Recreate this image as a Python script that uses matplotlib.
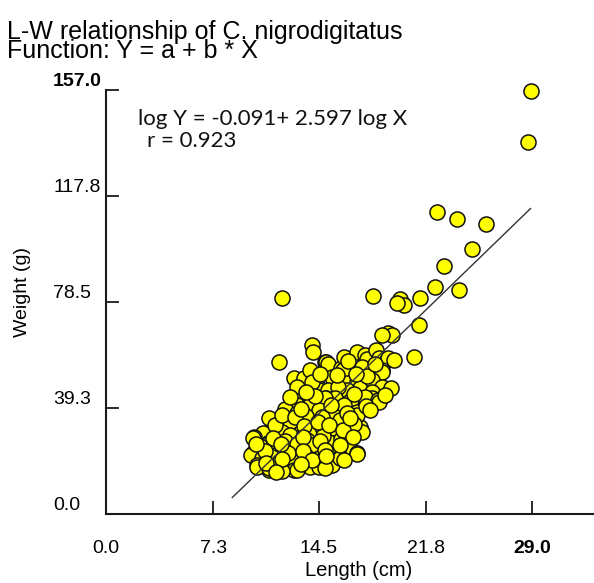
import matplotlib
matplotlib.use("Agg")
import matplotlib.pyplot as plt
import numpy as np

# ---------------- data ----------------
title_lines = ["L-W relationship of C. nigrodigitatus", "Function: Y = a + b * X"]
eq_text = "log Y = -0.091+ 2.597 log X"
r_text = "r = 0.923"
x_label = "Length (cm)"
y_label = "Weight (g)"

x_ticks = [0.0, 7.3, 14.5, 21.8, 29.0]
x_tick_labels = ["0.0", "7.3", "14.5", "21.8", "29.0"]
y_ticks = [0.0, 39.3, 78.5, 117.8, 157.0]
y_tick_labels = ["0.0", "39.3", "78.5", "117.8", "157.0"]

# outlying / sparse points
outer_length = [28.9, 28.7, 22.5, 23.9, 25.9, 24.9, 23.0, 22.4, 24.0, 21.4,
                20.0, 20.3, 19.8, 18.2, 12.0, 21.3, 21.0, 19.2, 19.5, 18.8,
                11.8, 14.0, 14.1]
outer_weight = [156.7, 137.8, 111.9, 109.3, 107.4, 98.1, 91.9, 84.1, 83.0, 80.0,
                79.6, 77.4, 78.1, 80.7, 80.0, 70.0, 58.1, 67.0, 66.3, 66.3,
                56.3, 62.6, 60.0]

# dense cluster
core_length = [
    12.8, 13.5, 13.9, 14.9, 15.0, 15.1, 16.0, 16.2, 17.1, 17.6, 17.8, 18.4, 18.6, 19.1, 19.2, 19.6,
    16.1, 17.4, 18.8, 18.8,
    13.0, 13.9, 14.5, 14.5, 15.4, 16.0, 16.4, 17.1, 17.3, 18.1, 18.8, 19.4, 15.1, 16.4, 18.1, 14.0,
    15.8, 17.8,
    12.7, 13.3, 14.1, 15.0, 15.7, 16.6, 17.3, 18.1, 18.6, 14.9, 15.6, 16.7, 17.6, 18.5, 13.0, 13.9,
    14.9, 13.9, 14.5, 15.4, 17.1, 18.6, 16.2, 12.2,
    11.1, 11.8, 12.5, 13.2, 14.1, 14.7, 15.7, 16.4, 17.3, 17.1, 12.5, 13.0, 15.9, 17.4, 15.6, 10.7,
    12.0, 13.2, 14.1, 14.7, 11.5, 16.9, 13.6,
    10.1, 11.0, 11.8, 12.7, 13.7, 14.3, 15.4, 16.6, 17.1, 10.0, 11.1, 12.5, 15.2, 15.8, 17.1, 10.0,
    11.5, 12.2, 13.0, 14.0, 14.8, 16.0, 10.5,
    9.9, 10.6, 11.3, 12.3, 13.0, 13.7, 14.5, 15.4, 15.9, 10.6, 12.5, 14.3, 14.5, 15.9, 10.3, 11.1,
    12.8, 13.9, 14.5, 10.3, 11.1, 13.0, 14.9, 11.8, 12.0,
    12.0, 12.9, 13.5, 14.4, 15.2, 16.1, 16.8, 13.4, 14.6, 15.9, 12.4, 13.4, 14.9, 11.4, 11.9, 10.8,
    10.2, 16.4, 17.7, 15.3, 14.2, 13.6, 16.9, 15.7, 14.6, 17.0, 18.3, 16.5, 13.3, 12.5, 19.0, 18.0,
    16.2, 12.0, 14.0, 10.9, 11.6, 13.3, 15.0, 16.6,
]
core_weight = [
    50.4, 50.4, 53.3, 56.3, 56.3, 55.5, 54.1, 58.1, 60.0, 58.9, 57.5, 60.7, 57.8, 57.0, 57.8, 57.0,
    53.3, 54.4, 53.3, 52.6,
    47.0, 45.9, 46.7, 45.9, 50.7, 48.5, 48.5, 48.9, 46.7, 49.6, 47.0, 46.7, 45.9, 45.9, 45.2, 48.8,
    47.2, 51.2,
    38.5, 42.2, 41.1, 43.0, 39.6, 41.5, 39.6, 43.0, 42.2, 42.2, 43.0, 42.2, 43.3, 42.2, 40.4, 41.5,
    43.0, 40.4, 38.5, 37.4, 37.8, 41.5, 40.2, 39.0,
    35.6, 32.2, 33.7, 34.8, 30.4, 35.9, 31.9, 34.8, 32.2, 36.7, 34.1, 37.4, 34.8, 30.4, 30.4, 30.0,
    30.4, 30.0, 31.1, 32.2, 33.0, 33.4, 36.2,
    28.5, 26.3, 23.7, 24.8, 27.4, 23.0, 26.3, 24.4, 22.6, 28.1, 26.3, 29.3, 26.7, 22.6, 22.2, 22.6,
    21.9, 27.0, 25.8, 25.5, 28.8, 27.8, 25.0,
    21.9, 20.0, 21.1, 18.9, 21.1, 21.1, 18.9, 18.1, 21.1, 20.7, 20.7, 18.9, 20.7, 20.7, 18.1, 16.3,
    16.3, 17.4, 17.4, 17.4, 17.0, 16.3, 17.0, 19.2, 15.8,
    36.5, 36.0, 32.5, 34.0, 33.0, 31.0, 28.5, 28.5, 27.0, 25.5, 22.5, 23.5, 23.8, 28.0, 26.0, 23.5,
    25.8, 37.5, 40.0, 40.5, 43.8, 45.0, 44.5, 51.5, 52.0, 52.0, 55.5, 56.5, 39.0, 43.5, 44.0, 38.5,
    20.0, 20.5, 20.0, 19.0, 15.5, 18.5, 21.5, 35.5,
]

# fitted straight line Y = a + b * X (as drawn)
fit_a = -39.2
fit_b = 5.27
fit_x_range = [8.6, 28.9]

# ---------------- plot ----------------
W, H = 594, 583
fig = plt.figure(figsize=(W / 100, H / 100), dpi=100)
ax_left, ax_right, ax_top, ax_bottom = 106, 594, 90, 514
ax = fig.add_axes([ax_left / W, (H - ax_bottom) / H,
                   (ax_right - ax_left) / W, (ax_bottom - ax_top) / H])

px_per_cm = (532 - 106) / 29.0
ax.set_xlim(0, (ax_right - ax_left) / px_per_cm)
ax.set_ylim(0, 157.0)

font = "Liberation Sans"

ax.scatter(core_length, core_weight, s=118, c="#FFFF00", edgecolors="#111111",
           linewidths=1.1, zorder=3, clip_on=False)
ax.scatter(outer_length, outer_weight, s=118, c="#FFFF00", edgecolors="#111111",
           linewidths=1.1, zorder=3, clip_on=False)

lx = np.array(fit_x_range)
ax.plot(lx, fit_a + fit_b * lx, color="#333333", lw=1.0, zorder=4)

for side in ["top", "right"]:
    ax.spines[side].set_visible(False)
for side in ["left", "bottom"]:
    ax.spines[side].set_linewidth(1.5)
    ax.spines[side].set_color("#1a1a1a")

ax.set_xticks(x_ticks)
ax.set_xticklabels(x_tick_labels, fontfamily=font, fontsize=14)
ax.set_yticks(y_ticks)
ax.set_yticklabels(y_tick_labels, fontfamily=font, fontsize=14)
ax.tick_params(axis="both", direction="in", length=9.5, width=1.3, color="#1a1a1a")
ax.tick_params(axis="x", pad=19)
ax.tick_params(axis="y", pad=38)
for lab in ax.get_yticklabels():
    lab.set_verticalalignment("bottom")
    lab.set_horizontalalignment("left")
ax.get_yticklabels()[-1].set_fontweight("bold")
ax.get_xticklabels()[-1].set_fontweight("bold")

ax.set_xlabel(x_label, fontfamily=font, fontsize=14.5)
ax.xaxis.set_label_coords((359 - ax_left) / (ax_right - ax_left),
                          -(571 - ax_bottom) / (ax_bottom - ax_top))
ax.xaxis.label.set_verticalalignment("center")
ax.set_ylabel(y_label, fontfamily=font, fontsize=14)
ax.yaxis.set_label_coords(-(ax_left - 23) / (ax_right - ax_left),
                          (ax_bottom - 292) / (ax_bottom - ax_top))
ax.yaxis.label.set_verticalalignment("center")

fig.text(7 / W, 1 - 58 / H, "\n".join(title_lines), fontfamily=font, fontsize=18,
         va="baseline", ha="left", linespacing=0.76)

fig.text(138 / W, 1 - 125 / H, eq_text, fontfamily="Lato", fontsize=16,
         va="baseline", ha="left", color="#111111")
fig.text(147 / W, 1 - 147 / H, r_text, fontfamily="Lato", fontsize=16,
         va="baseline", ha="left", color="#111111")

fig.savefig("out.png", dpi=100)
